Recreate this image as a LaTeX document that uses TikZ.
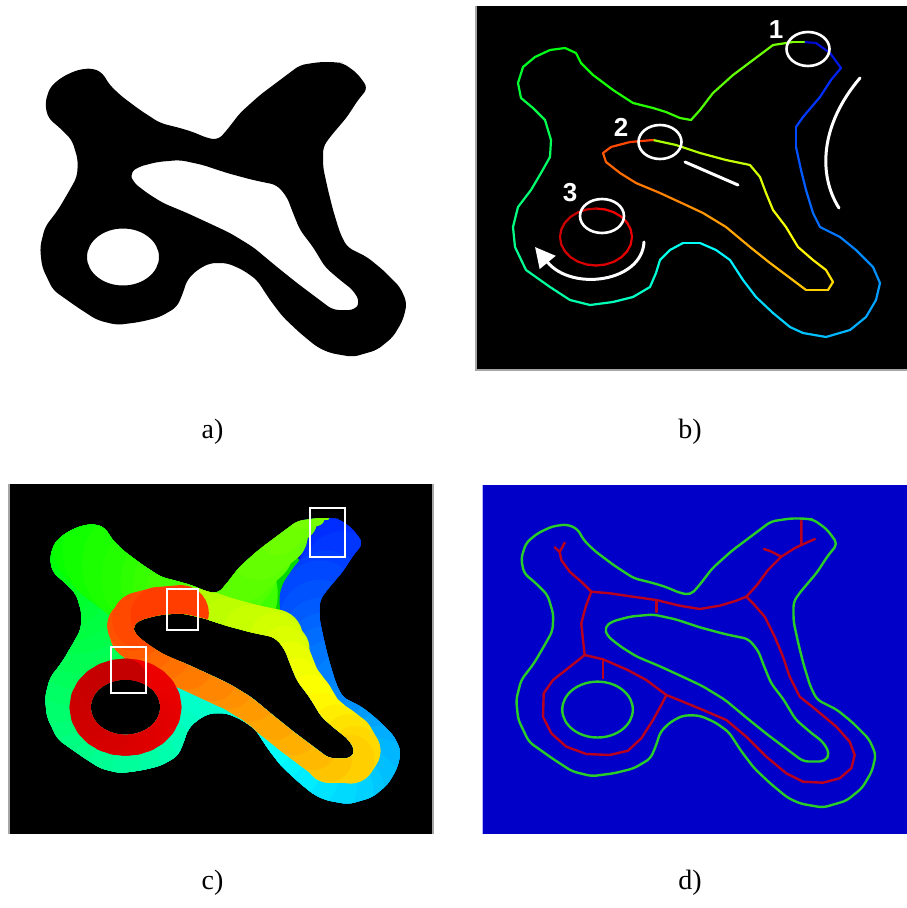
\documentclass[tikz,border=0pt]{standalone}
\usepackage{fontspec}
\setmainfont{Liberation Serif}
\setsansfont{Liberation Sans}
\usetikzlibrary{arrows.meta}

\definecolor{skelred}{RGB}{185,0,30}
\definecolor{contgreen}{RGB}{40,205,40}
\definecolor{dback}{RGB}{0,0,200}

% Contornos (pixeles del panel a): x/y/ancho de banda
\newcommand{\outerpts}{343/63/100, 357/73/100, 368/88/100, 358/100/100, 347/117/90,
  330/137/80, 323/147/80, 323/167/80, 328/190/80, 333/210/90, 340/233/100,
  347/247/120, 367/257/120, 383/270/120, 400/287/120, 407/303/120, 403/320/120,
  393/337/120, 377/350/120, 353/357/120, 330/353/120, 317/347/120, 300/333/120,
  283/317/120, 270/300/120, 257/280/120, 243/270/120, 227/263/120, 210/263/120,
  197/270/120, 187/280/120, 183/293/120, 177/307/120, 160/317/120, 140/322/120,
  117/325/120, 97/320/120, 77/307/120, 53/290/120, 42/267/120, 40/247/120,
  45/227/120, 58/210/120, 68/193/120, 77/177/120, 78/160/120, 72/140/120,
  60/128/120, 48/118/120, 45/103/120, 50/87/120, 62/77/120, 77/70/120, 92/68/120,
  103/73/120, 108/83/120, 120/95/120, 140/110/120, 160/123/120, 180/128/120,
  193/132/120, 207/138/120, 218/140/120, 227/130/80, 240/113/80, 260/95/70,
  280/80/60, 300/65/40, 320/62/16, 331/62/4}
\newcommand{\slitpts}{203/165/56, 227/173/56, 253/180/56, 277/185/56, 287/197/50,
  293/213/46, 300/230/46, 313/247/46, 325/267/46, 340/280/48, 353/290/50,
  360/302/50, 355/310/50, 333/310/48, 317/298/46, 297/283/46, 277/267/46,
  253/247/46, 230/233/48, 213/225/50, 187/213/50, 163/203/50, 147/193/50,
  133/182/50, 130/173/50, 138/167/50, 157/162/56, 180/160/56}
\newcommand{\shapepath}{(337,62.5) \foreach \x/\y/\w in \outerpts {-- (\x,\y)} -- cycle
  (191.5,162.5) \foreach \x/\y/\w in \slitpts {-- (\x,\y)} -- cycle
  (123,257) ellipse [x radius=36, y radius=28.5]}

% Contornos coloreados
\newcommand{\paintouter}[1]{%
  \foreach \x/\y/\w [count=\i, remember=\x as \px (initially 331), remember=\y as \py (initially 62)] in \outerpts {
    \pgfmathsetmacro\segh{0.667-0.417*\i/70}
    \pgfmathsetmacro\segv{min(1,0.75+0.05*\i)}
    \definecolor{segc}{hsb}{\segh,1,\segv}
    \draw[segc, line cap=round, line width=\w pt, #1] (\px,\py) -- (\x,\y);
  }}
\newcommand{\paintslit}[1]{%
  \foreach \x/\y/\w [count=\i, remember=\x as \px (initially 180), remember=\y as \py (initially 160)] in \slitpts {
    \pgfmathsetmacro\segh{0.23-0.19*\i/28}
    \definecolor{segc}{hsb}{\segh,1,1}
    \draw[segc, line cap=round, line width=\w pt, #1] (\px,\py) -- (\x,\y);
  }}
\newcommand{\paintcircle}[1]{%
  \foreach \a [remember=\a as \pa (initially 0)] in {15,30,...,360} {
    \pgfmathsetmacro\segv{0.97-0.2*\a/360}
    \definecolor{segc}{hsb}{0,1,\segv}
    \draw[segc, line cap=round, #1] ({123+36*sin(\pa)},{257-28.5*cos(\pa)}) -- ({123+36*sin(\a)},{257-28.5*cos(\a)});
  }}

\begin{document}
\begin{tikzpicture}[x=1pt, y=-1pt,
    panellbl/.style={font=\fontsize{28}{30}\selectfont, anchor=base, inner sep=0pt},
    numlbl/.style={font=\sffamily\bfseries\fontsize{26}{28}\selectfont, text=white, inner sep=0pt},
    hilite/.style={draw=white, line width=2.6pt},
    pointer/.style={white, line width=3pt, line cap=round},
    frame/.style={gray!70, line width=1.5pt},
    skel/.style={draw=skelred, line width=2.4pt, line join=round, line cap=round},
    edge/.style={draw=contgreen, line width=2.4pt, line join=round, rounded corners=5pt}
  ]
  \useasboundingbox (0,0) rectangle (907,908);
  \fill[white] (0,0) rectangle (907,908);

  % Panel a
  \fill[black, even odd rule, rounded corners=6pt] \shapepath;
  \node[panellbl] (lbla) at (212.5,438) {a)};

  % Panel b
  \fill[black] (476,6) rectangle (907,370);
  \draw[frame] (476,6) -- (476,370) -- (907,370);
  \begin{scope}[shift={(473,-20)}]
    \paintouter{line width=2.2pt}
    \paintslit{line width=2.2pt}
    \paintcircle{line width=2.2pt}
  \end{scope}
  \draw[hilite] (808,49) ellipse [x radius=21.5, y radius=17];
  \draw[hilite] (660,142) ellipse [x radius=21.5, y radius=17];
  \draw[hilite] (602,216) ellipse [x radius=22, y radius=17];
  \node[numlbl] (num1) at (776,30) {1};
  \node[numlbl] (num2) at (621,127) {2};
  \node[numlbl] (num3) at (570,193) {3};
  \draw[pointer] (860,78) .. controls (820,125) and (818,175) .. (839,208);
  \draw[pointer] (685,162) -- (738,185);
  \draw[pointer, -{Triangle[length=20pt, width=20pt]}] (644,242) .. controls (642,282) and (572,292) .. (535,247);
  \node[panellbl] (lblb) at (690,438) {b)};

  % Panel c
  \fill[black] (9,484) rectangle (433,834);
  \draw[frame] (9,484) -- (9,834) (433,484) -- (433,834);
  \begin{scope}[shift={(6.2,457.9)}, scale=0.97, even odd rule]
    \clip[rounded corners=6pt] \shapepath;
    \fill[green!85!black] (0,0) rectangle (450,400);
    \paintouter{}
    \paintslit{}
    \paintcircle{line width=42pt}
  \end{scope}
  \draw[hilite] (310,508) rectangle (345,557);
  \draw[hilite] (167,589) rectangle (198,630);
  \draw[hilite] (111,647) rectangle (146,693);
  \node[panellbl] (lblc) at (212.5,889) {c)};

  % Panel d
  \fill[dback] (482,485) rectangle (907,834);
  \draw[blue!30, line width=1pt] (482,485) -- (482,834);
  \begin{scope}[shift={(477,457.7)}, scale=0.98]
    \draw[edge] \shapepath;
  \end{scope}
  \draw[skel] (554.7,547.3) -- (559.7,552) -- (564.7,542.7);
  \draw[skel] (559.7,552) -- (561.3,560) -- (569.7,571.7) -- (583,583.3) -- (591.3,591.7)
    -- (609.7,593.3) -- (633,596.7) -- (656.3,600) -- (679.7,605.7) -- (699.7,609)
    -- (719.7,605.7) -- (736.3,600.7) -- (746.3,596.7);
  \draw[skel] (656.3,600) -- (656.3,612);
  \draw[skel] (746.3,596.7) -- (757,585) -- (768,570) -- (781.3,556.7) -- (795,548) -- (801.3,545) -- (801.3,520.7);
  \draw[skel] (801.3,545) -- (808,542) -- (815,539);
  \draw[skel] (781.3,556.7) -- (770,551) -- (764,549);
  \draw[skel] (746.3,596.7) -- (753,603.3) -- (764.7,616.7) -- (774.7,636.7) -- (783,656.7)
    -- (789.7,676.7) -- (799.7,696.7) -- (816.3,710) -- (836.3,726.7) -- (849.7,741.7)
    -- (854.7,755) -- (851.3,768.3) -- (839.7,778.3) -- (823,782.7) -- (803,781.7)
    -- (786.3,773.3) -- (766.3,756.7) -- (746.3,736.7) -- (726.3,720) -- (703,710)
    -- (683,701.7) -- (666.3,695);
  \draw[skel] (666.3,695) -- (661.3,705) -- (653,720) -- (641.3,738.3) -- (628,750.7)
    -- (609.7,755) -- (586.3,754) -- (566.3,746.7) -- (551.3,733.3) -- (543,716.7)
    -- (543.7,693.3) -- (553,680) -- (568,668.3) -- (584.7,655);
  \draw[skel] (584.7,655) -- (583,640) -- (581.3,623.3) -- (585.7,606.7) -- (591.3,591.7);
  \draw[skel] (584.7,655) -- (603,659.3) -- (626.3,669.3) -- (646.3,680) -- (666.3,695);
  \draw[skel] (603,659.3) -- (603,678.3);
  \node[panellbl] (lbld) at (690,889) {d)};
\end{tikzpicture}
\end{document}
